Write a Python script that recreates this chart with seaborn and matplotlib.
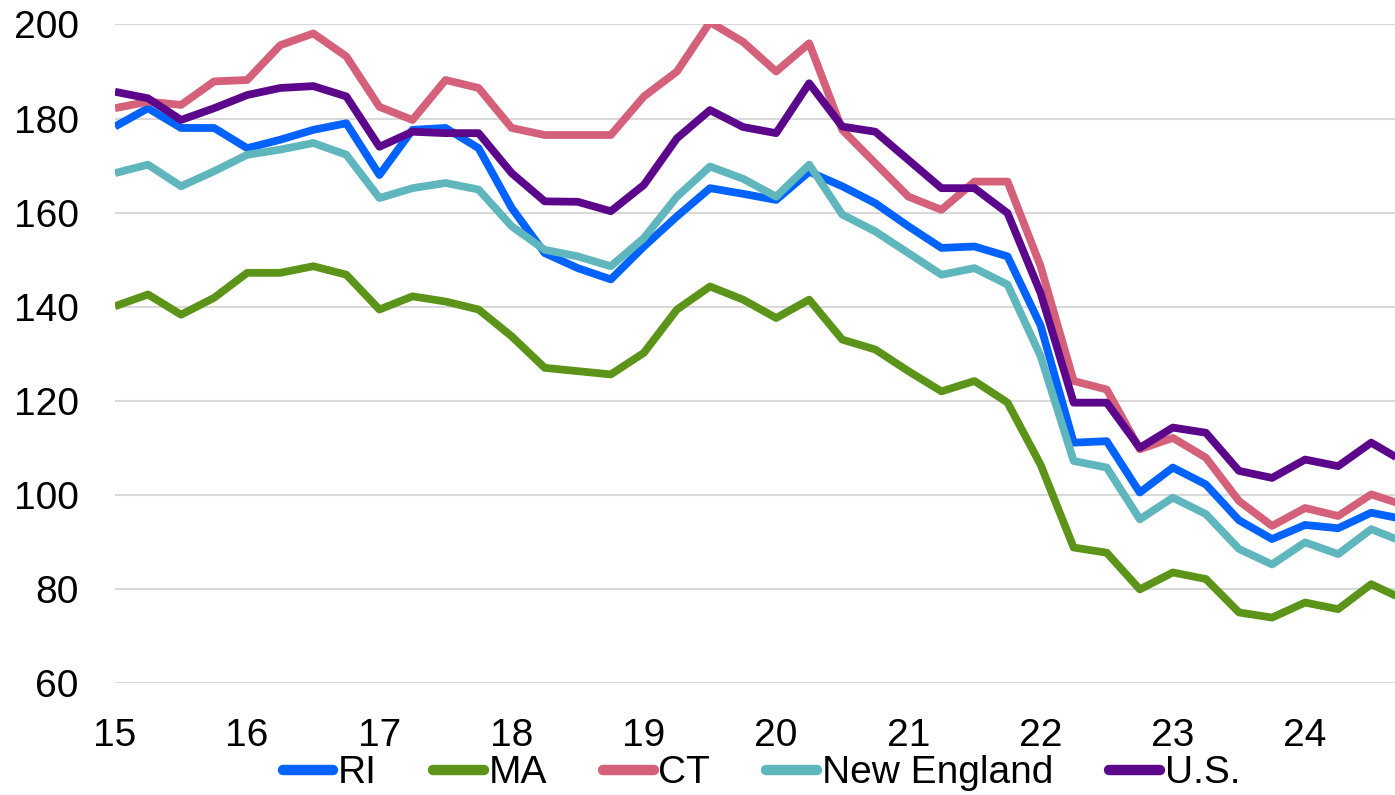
import numpy as np
import pandas as pd
import seaborn as sns
import matplotlib
matplotlib.use("Agg")
import matplotlib.pyplot as plt

# quarterly index values, 2015Q1 .. 2024Q4
quarters = [15 + q / 4 for q in range(40)]

ri = [178.3, 182.2, 178.0, 178.0, 173.7, 175.5, 177.6, 179.0, 168.0, 177.6,
      178.0, 173.7, 161.0, 151.4, 148.2, 145.8, 152.8, 159.2, 165.2, 164.0,
      162.7, 168.7, 165.6, 162.0, 157.1, 152.5, 152.8, 150.7, 136.0, 111.1,
      111.4, 100.5, 105.8, 102.2, 94.6, 90.6, 93.6, 92.9, 96.2, 94.8]
ma = [140.1, 142.6, 138.3, 141.9, 147.2, 147.2, 148.6, 146.8, 139.4, 142.2,
      141.1, 139.4, 133.7, 127.0, 126.3, 125.6, 130.2, 139.4, 144.3, 141.5,
      137.6, 141.5, 133.0, 130.9, 126.3, 122.0, 124.2, 119.6, 106.4, 88.8,
      87.7, 79.9, 83.5, 82.1, 75.0, 73.9, 77.1, 75.7, 81.0, 77.7]
ct = [182.2, 183.6, 182.9, 187.9, 188.2, 195.6, 198.1, 193.2, 182.5, 179.7,
      188.2, 186.5, 178.0, 176.5, 176.5, 176.5, 184.7, 190.0, 200.5, 196.3,
      190.0, 196.0, 177.6, 170.5, 163.4, 160.6, 166.6, 166.6, 148.6, 124.2,
      122.4, 109.7, 112.1, 107.9, 98.7, 93.4, 97.2, 95.5, 100.1, 97.8]
ne = [168.4, 170.2, 165.6, 168.8, 172.3, 173.4, 174.8, 172.3, 163.1, 165.2,
      166.3, 164.9, 157.1, 152.1, 150.7, 148.6, 154.6, 163.4, 169.8, 167.2,
      163.4, 170.2, 159.6, 156.0, 151.4, 146.8, 148.2, 144.7, 129.5, 107.2,
      105.8, 94.8, 99.4, 95.9, 88.5, 85.2, 89.9, 87.4, 92.7, 89.9]
us = [185.7, 184.3, 179.7, 182.2, 185.0, 186.5, 186.9, 184.7, 174.0, 177.2,
      176.9, 176.9, 168.4, 162.4, 162.3, 160.3, 165.9, 175.8, 181.8, 178.2,
      176.9, 187.5, 178.3, 177.2, 171.2, 165.2, 165.2, 159.9, 142.9, 119.6,
      119.6, 110.0, 114.3, 113.2, 105.1, 103.6, 107.5, 106.1, 111.1, 107.0]

names = ["RI", "MA", "CT", "New England", "U.S."]
colors = ["#0062FF", "#5B9419", "#D4607A", "#5FB6BD", "#5C068C"]
year_ticks = list(range(15, 25))

df = pd.concat([
    pd.DataFrame({"quarter": quarters, "value": vals, "series": name})
    for name, vals in zip(names, [ri, ma, ct, ne, us])
])

sns.set_style("white")
plt.rcParams["font.family"] = ["Liberation Sans", "DejaVu Sans"]
plt.rcParams["text.color"] = "black"

fig = plt.figure(figsize=(13.95, 7.95), dpi=100)
ax = fig.add_axes([0.0824, 0.1409, 1 - 0.0824, 0.9692 - 0.1409])

sns.lineplot(data=df, x="quarter", y="value", hue="series", hue_order=names,
             palette=colors, linewidth=5.6, ax=ax, legend=False,
             solid_joinstyle="round", solid_capstyle="butt")

ax.set_xlim(15, 24.68)
ax.set_ylim(60, 200)
ax.set_yticks(range(60, 201, 20))
ax.set_xticks(year_ticks)
ax.set_xticklabels([str(y) for y in year_ticks])
ax.yaxis.grid(True, color="#D9D9D9", linewidth=1.5)
ax.set_axisbelow(True)
for s in ax.spines.values():
    s.set_visible(False)
ax.tick_params(axis="both", length=0, labelsize=28, colors="black")
ax.tick_params(axis="x", pad=25)
ax.tick_params(axis="y", pad=26)
ax.set_xlabel("")
ax.set_ylabel("")

handles = [plt.Line2D([], [], color=c, linewidth=7.5, solid_capstyle="round")
           for c in colors]
ax.legend(handles, names, loc="upper center", bbox_to_anchor=(0.505, -0.11),
          ncol=5, frameon=False, fontsize=28, handlelength=1.3,
          handletextpad=0.12, columnspacing=1.45, borderaxespad=0,
          borderpad=0, labelcolor="black")

fig.savefig("out.png", dpi=100)
